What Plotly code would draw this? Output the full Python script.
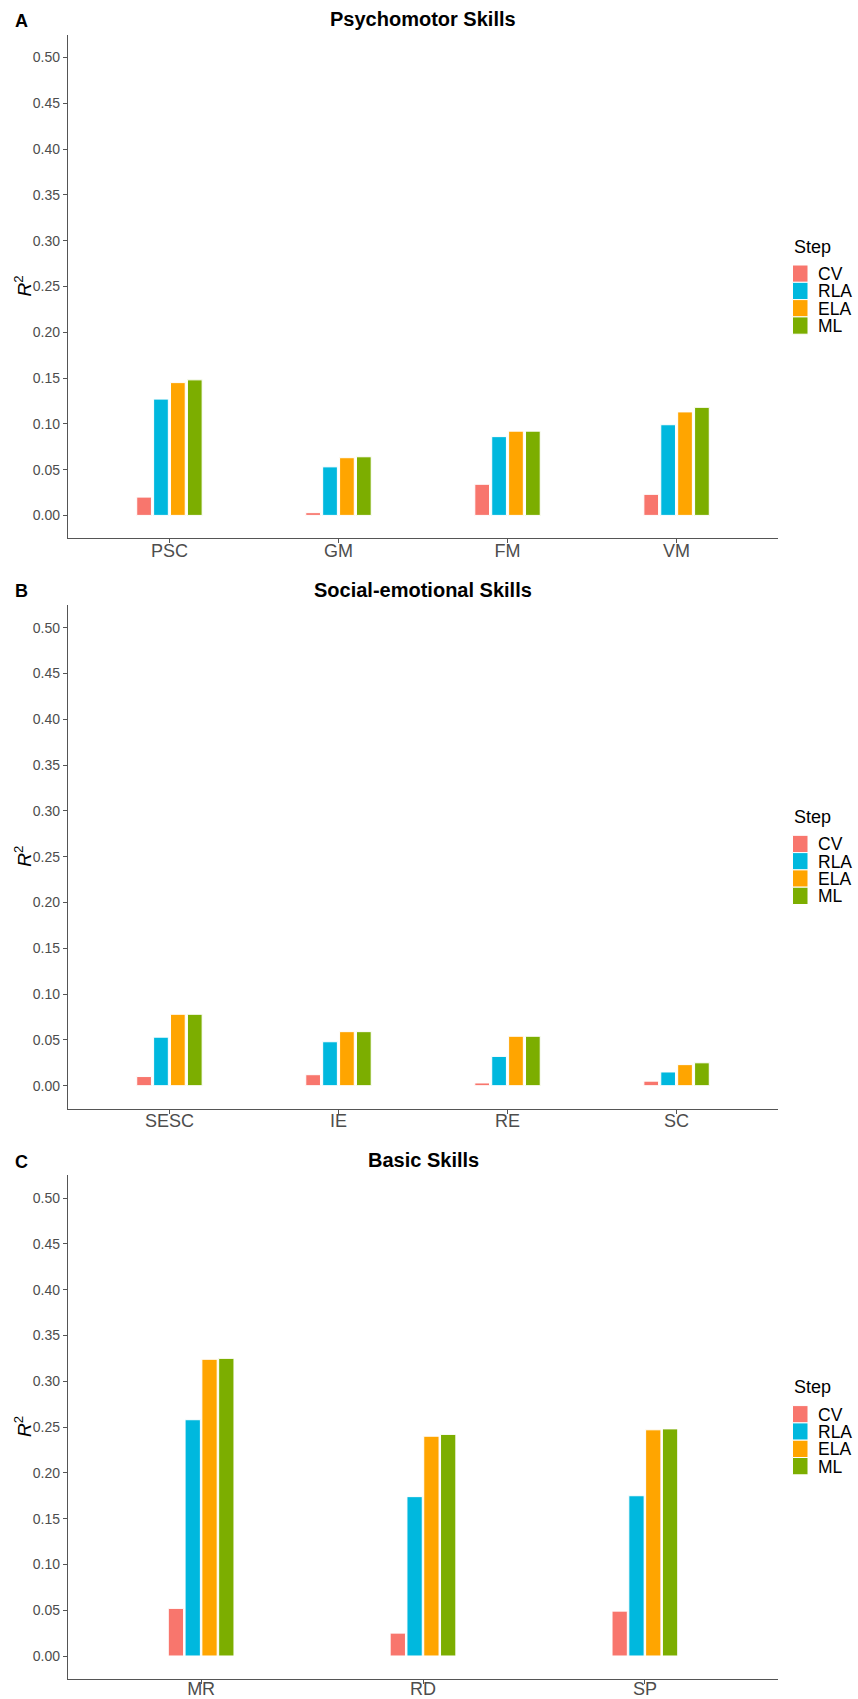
import plotly.graph_objects as go

# ---- data -------------------------------------------------------------
steps = ["CV", "RLA", "ELA", "ML"]
step_colors = ["#F8766D", "#00B8DE", "#FFA500", "#7CAE00"]

psycho_cats = ["PSC", "GM", "FM", "VM"]
psycho_cv = [0.020, 0.003, 0.034, 0.023]
psycho_rla = [0.127, 0.053, 0.086, 0.099]
psycho_ela = [0.145, 0.063, 0.092, 0.113]
psycho_ml = [0.148, 0.064, 0.092, 0.118]

social_cats = ["SESC", "IE", "RE", "SC"]
social_cv = [0.010, 0.012, 0.003, 0.005]
social_rla = [0.053, 0.048, 0.032, 0.015]
social_ela = [0.078, 0.059, 0.054, 0.023]
social_ml = [0.078, 0.059, 0.054, 0.025]

basic_cats = ["MR", "RD", "SP"]
basic_cv = [0.052, 0.025, 0.049]
basic_rla = [0.258, 0.174, 0.175]
basic_ela = [0.324, 0.240, 0.247]
basic_ml = [0.325, 0.242, 0.248]

y_tick_vals = [0.00, 0.05, 0.10, 0.15, 0.20, 0.25, 0.30, 0.35, 0.40, 0.45, 0.50]
y_tick_text = ["0.00", "0.05", "0.10", "0.15", "0.20", "0.25",
               "0.30", "0.35", "0.40", "0.45", "0.50"]

panels = [
    ("A", "Psychomotor Skills", psycho_cats, [psycho_cv, psycho_rla, psycho_ela, psycho_ml]),
    ("B", "Social-emotional Skills", social_cats, [social_cv, social_rla, social_ela, social_ml]),
    ("C", "Basic Skills", basic_cats, [basic_cv, basic_rla, basic_ela, basic_ml]),
]

# ---- layout geometry (pixels) ----------------------------------------
W, H = 858, 1699
FONT = "Arial, Liberation Sans, Helvetica, sans-serif"
PLOT_L, PLOT_R = 68, 778
PANEL_TOP0, PANEL_H, PANEL_STEP = 34.6, 503.7, 570.3


def px(x):
    return x / W


def py(y):
    return 1 - y / H


fig = go.Figure()
shapes = []
annotations = []

for k, (letter, title, cats, series) in enumerate(panels):
    n = len(cats)
    top = PANEL_TOP0 + k * PANEL_STEP
    bottom = top + PANEL_H
    suffix = "" if k == 0 else str(k + 1)
    xref, yref = "x" + suffix, "y" + suffix

    # dodge spacing in category units (narrower for the 3-category panel)
    pitch = 0.1 if n == 4 else 0.0757
    width = 0.087 if n == 4 else 0.069
    for i, (step, color, vals) in enumerate(zip(steps, step_colors, series)):
        center = (i - 1.5) * pitch
        fig.add_trace(go.Bar(
            x=cats, y=vals, name=step,
            width=width, offset=center - width / 2,
            marker=dict(color=color, line=dict(color="white", width=1)),
            xaxis=xref, yaxis=yref, showlegend=False,
        ))

    axis_common = dict(showline=True, linecolor="#555555", linewidth=1.3,
                       ticks="outside", ticklen=4, tickcolor="#555555", tickwidth=1.1,
                       showgrid=False, zeroline=False, automargin=False)
    # the bottom panel's labels sit a little tighter so they stay inside the page
    fig.layout["xaxis" + suffix] = dict(
        axis_common, domain=[px(PLOT_L), px(PLOT_R)], anchor=yref,
        type="category", range=[-0.6, n - 0.4],
        ticklabelstandoff=-8 if k < 2 else -11,
        tickfont=dict(family=FONT, size=18, color="#4D4D4D"),
    )
    fig.layout["yaxis" + suffix] = dict(
        axis_common, domain=[py(bottom), py(top)], anchor=xref,
        range=[-0.025, 0.525], tickvals=y_tick_vals, ticktext=y_tick_text,
        tickfont=dict(family=FONT, size=14, color="#4D4D4D"),
    )

    # panel title, panel letter and y-axis title
    annotations.append(dict(
        x=px((PLOT_L + PLOT_R) / 2), y=py(19.5 + k * PANEL_STEP), xref="paper", yref="paper",
        text="<b>" + title + "</b>", showarrow=False, xanchor="center", yanchor="middle",
        font=dict(family=FONT, size=20, color="black")))
    annotations.append(dict(
        x=px(21), y=py(21 + k * PANEL_STEP), xref="paper", yref="paper",
        text="<b>" + letter + "</b>", showarrow=False, xanchor="center", yanchor="middle",
        font=dict(family=FONT, size=18, color="black")))
    annotations.append(dict(
        x=px(23), y=py((top + bottom) / 2), xref="paper", yref="paper",
        text="<i>R</i><sup>2</sup>", textangle=-90, showarrow=False,
        xanchor="center", yanchor="middle",
        font=dict(family=FONT, size=19, color="black")))

    # legend: "Step" with one filled key per step
    annotations.append(dict(
        x=px(792), y=py(246.5 + k * PANEL_STEP), xref="paper", yref="paper",
        text="Step", showarrow=False, xanchor="left", yanchor="middle",
        font=dict(family=FONT, size=18, color="black")))
    key_top = 265 + k * PANEL_STEP
    key_h = 17.3
    for i, (step, color) in enumerate(zip(steps, step_colors)):
        y0 = key_top + i * key_h
        shapes.append(dict(
            type="rect", xref="paper", yref="paper",
            x0=px(792.5), x1=px(808), y0=py(y0 + key_h), y1=py(y0),
            fillcolor=color, line=dict(color="white", width=1)))
        annotations.append(dict(
            x=px(815.5), y=py(y0 + key_h / 2 + 0.5), xref="paper", yref="paper",
            text=step, showarrow=False, xanchor="left", yanchor="middle",
            font=dict(family=FONT, size=17.5, color="black")))

fig.update_layout(
    width=W, height=H,
    margin=dict(l=0, r=0, t=0, b=0),
    paper_bgcolor="white", plot_bgcolor="white",
    barmode="overlay",
    showlegend=False,
    shapes=shapes,
    annotations=annotations,
    font=dict(family=FONT),
)

fig.write_html("out.html")
